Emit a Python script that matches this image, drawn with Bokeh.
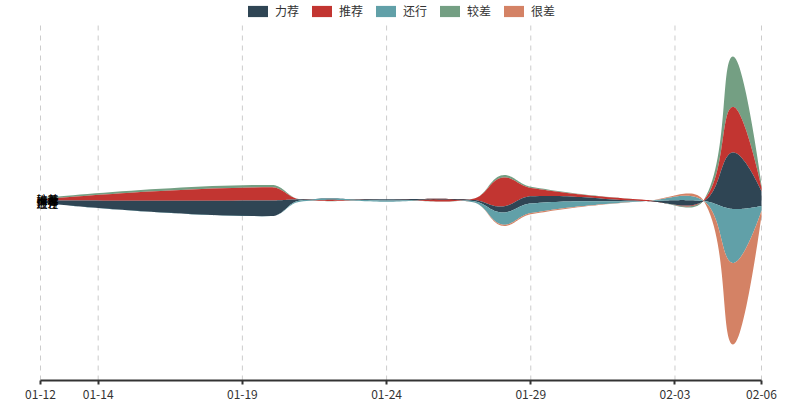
import numpy as np
import pandas as pd
from bokeh.plotting import figure
from bokeh.models import Legend, LegendItem, FixedTicker
from bokeh.core.properties import value
from bokeh.embed import file_html
from bokeh.resources import INLINE

# ---- data -------------------------------------------------------------
dates = ["01-12", "01-20", "01-21", "01-24", "01-27", "01-28", "01-29",
         "02-02", "02-04", "02-05", "02-06"]
jiaocha = [1, 2, 0, 0, 0, 2, 1, 0, 0, 42, 2]     # 较差
tuijian = [1, 11, 0, 0, 1, 24, 7, 1, 1, 38, 3]   # 推荐
lijian  = [2, 13, 1, 1, 1, 5, 6, 0, 0, 47, 12]   # 力荐
haixing = [0, 0, 1, 1, 1, 10, 8, 0, 0, 45, 4]    # 还行
hencha  = [0, 0, 0, 0, 0, 1, 1, 0, 0, 68, 4]     # 很差

layer_names = ["较差", "推荐", "力荐", "还行", "很差"]   # stacking order, top to bottom
layer_values = [jiaocha, tuijian, lijian, haixing, hencha]
layer_colors = ["#749f83", "#c23531", "#2f4554", "#61a0a8", "#d48265"]
legend_order = ["力荐", "推荐", "还行", "较差", "很差"]

tick_labels = ["01-12", "01-14", "01-19", "01-24", "01-29", "02-03", "02-06"]

# ---- helpers ----------------------------------------------------------
def to_day(s):
    d = pd.Timestamp("2019-" + s)
    return (d - pd.Timestamp("2019-" + dates[0])).days

days = np.array([to_day(d) for d in dates], float)
tick_days = [to_day(t) for t in tick_labels]

PXD = 721.0 / days[-1]          # pixels per day (axis length / span)
STREAM_H = 288.0                # pixel height of the widest cross-section

vals = np.array(layer_values, float)
sums = vals.sum(axis=0)
mx = sums.max()
PPU = STREAM_H / mx
base = (mx - sums) / 2.0

# edges from top (growing downward), then flip to y-up
edges = [base.copy()]
for v in vals:
    edges.append(edges[-1] + v)
edges_up = [mx - e for e in edges]


def smooth_edge(xs, ys, smooth=0.4, n=30):
    pts = np.column_stack([xs, ys])
    out = [pts[0]]
    cp0 = pts[0].copy()
    m = len(pts)
    t = np.linspace(0, 1, n + 1)[1:, None]
    for i in range(1, m):
        p = pts[i]
        prev = pts[i - 1]
        if i + 1 < m:
            nxt = pts[i + 1]
            vv = nxt - prev
            lp = np.hypot(*(p - prev))
            ln = np.hypot(*(p - nxt))
            r = ln / (ln + lp) if (ln + lp) > 0 else 0.5
            cp1 = p - vv * smooth * (1 - r)
            ncp0 = p + vv * smooth * r
        else:
            cp1 = p.copy()
            ncp0 = p.copy()
        seg = ((1 - t) ** 3) * prev + 3 * ((1 - t) ** 2) * t * cp0 \
            + 3 * (1 - t) * (t ** 2) * cp1 + (t ** 3) * p
        out.extend(seg)
        cp0 = ncp0
    out = np.array(out)
    return out[:, 0], out[:, 1]


# ---- figure -----------------------------------------------------------
x0 = -40.0 / PXD
x1 = x0 + 800.0 / PXD
yc = mx / 2.0
y_lo = yc - 180.0 / PPU
y_hi = yc + 200.0 / PPU
y_axis_top = yc + 180.0 / PPU    # top of the single-axis area

p = figure(frame_width=800, frame_height=380, x_range=(x0, x1), y_range=(y_lo, y_hi),
           output_backend="svg", toolbar_location=None, y_axis_location=None,
           min_border_top=0, min_border_bottom=0, min_border_left=0, min_border_right=0,
           background_fill_color="white", border_fill_color="white")
p.outline_line_color = None
p.ygrid.visible = False
p.xgrid.visible = False

# dashed split lines at the tick dates
p.segment(x0=tick_days, y0=[y_lo] * len(tick_days), x1=tick_days,
          y1=[y_axis_top] * len(tick_days), line_color="#cccccc",
          line_dash="5 5", line_width=1)

renderers = {}
for k, (name, color) in enumerate(zip(layer_names, layer_colors)):
    top = edges_up[k]
    bot = edges_up[k + 1]
    tx, ty = smooth_edge(days * PXD, top * PPU)
    bx, by = smooth_edge(days * PXD, bot * PPU)
    px = np.concatenate([tx, bx[::-1]]) / PXD
    py = np.concatenate([ty, by[::-1]]) / PPU
    r = p.patch(px, py, fill_color=color, line_color=None)
    renderers[name] = r

# labels at the first point of each layer
mids = [(edges_up[k][0] + edges_up[k + 1][0]) / 2.0 for k in range(len(layer_names))]
p.text(x=[days[0]] * len(layer_names), y=mids, text=layer_names,
       x_offset=-4, text_align="left", text_baseline="middle",
       text_font=value("Noto Sans CJK SC"), text_font_size="11px", text_color="#000000")

# axis
ax = p.xaxis[0]
ax.ticker = FixedTicker(ticks=tick_days)
ax.major_label_overrides = {d: lab for d, lab in zip(tick_days, tick_labels)}
ax.bounds = (days[0], days[-1])
ax.axis_line_color = "#333333"
ax.axis_line_width = 2
ax.major_tick_line_color = "#333333"
ax.major_tick_line_width = 2
ax.major_tick_in = 0
ax.major_tick_out = 4
ax.minor_tick_line_color = None
ax.major_label_standoff = 5
ax.major_label_text_font = "Noto Sans CJK SC"
ax.major_label_text_font_size = "12px"
ax.major_label_text_color = "#333333"

items = [LegendItem(label=n, renderers=[renderers[n]]) for n in legend_order]
legend = Legend(items=items, orientation="horizontal", location=(245, 361),
                glyph_width=25, glyph_height=14, label_height=14, label_width=10,
                label_standoff=5, spacing=10, padding=0, margin=0,
                label_text_font="Noto Sans CJK SC", label_text_font_size="12px",
                label_text_color="#333333", background_fill_alpha=0,
                border_line_color=None)
p.add_layout(legend, "center")

open("out.html", "w").write(file_html(p, INLINE))
